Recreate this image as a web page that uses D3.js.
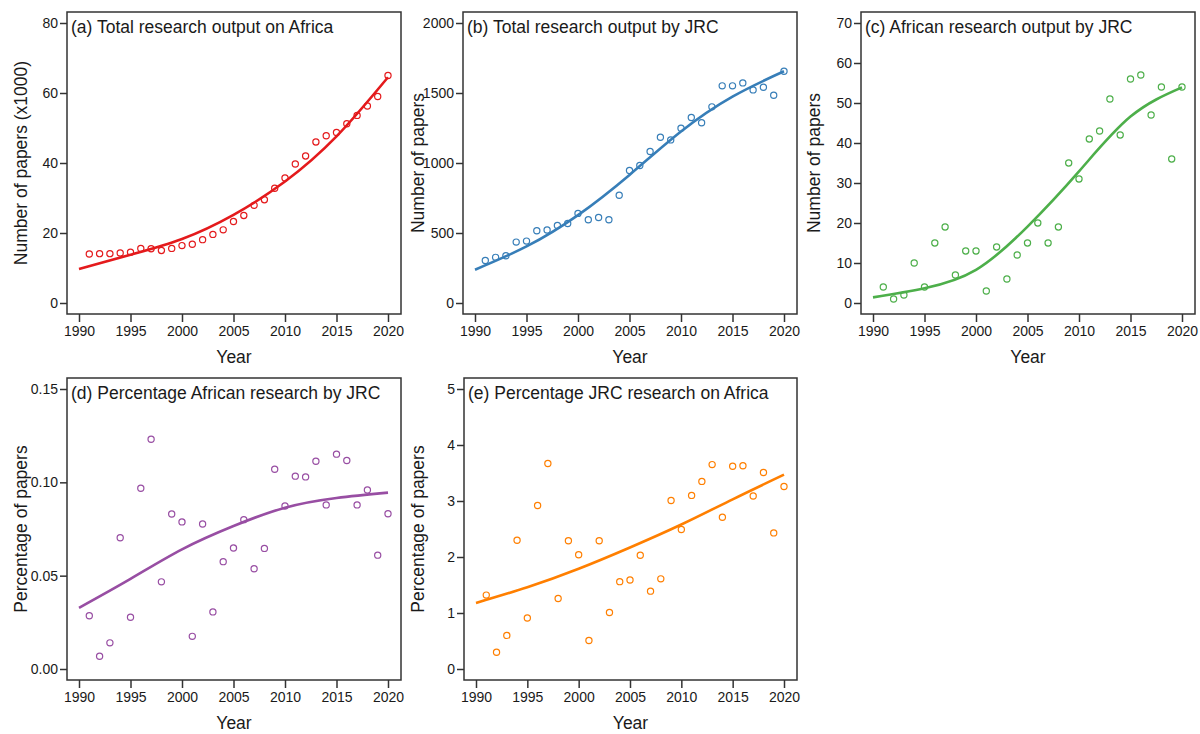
<!DOCTYPE html>
<html>
<head>
<meta charset="utf-8">
<script src="https://cdn.jsdelivr.net/npm/d3@7"></script>
<style>
  body { margin: 0; background: #fff; }
  svg text { font-family: "Liberation Sans", Arial, sans-serif; fill: #1a1a1a; }
</style>
</head>
<body>
<div id="chart"></div>
<script>
// ---- data ----
const years = d3.range(1991, 2021);
const fitYears = [1990, 1995, 2000, 2005, 2010, 2015, 2020];

// (a) total research output on Africa (x1000)
const africaTotal = [14.0, 14.1, 14.1, 14.3, 14.5, 15.6, 15.5, 15.0, 15.6, 16.4,
  16.8, 18.1, 19.6, 20.9, 23.3, 25.0, 27.9, 29.5, 32.8, 35.7,
  39.7, 42.0, 46.0, 47.8, 48.7, 51.2, 53.6, 56.3, 59.0, 65.0];
const africaTotalFit = [9.7, 13.8, 18.3, 25.2, 34.7, 47.6, 64.5];

// (b) total research output by JRC
const jrcTotal = [304, 326, 338, 435, 442, 516, 521, 554, 568, 640,
  595, 611, 595, 770, 946, 982, 1082, 1184, 1165, 1248,
  1325, 1287, 1401, 1551, 1551, 1572, 1522, 1541, 1484, 1655];
const jrcTotalFit = [238, 404, 628, 915, 1225, 1474, 1655];

// (c) African research output by JRC
const jrcAfrica = [4, 1, 2, 10, 4, 15, 19, 7, 13, 13,
  3, 14, 6, 12, 15, 20, 15, 19, 35, 31,
  41, 43, 51, 42, 56, 57, 47, 54, 36, 54];
const jrcAfricaFit = [1.4, 3.7, 8.3, 19.1, 32.9, 46.6, 53.9];

// (d) percentage African research by JRC
const pctAfricaByJrc = [0.0285, 0.0068, 0.0140, 0.0703, 0.0277, 0.0968, 0.1231, 0.0467, 0.0830, 0.0788,
  0.0175, 0.0777, 0.0306, 0.0575, 0.0648, 0.0800, 0.0537, 0.0646, 0.1070, 0.0873,
  0.1033, 0.1029, 0.1113, 0.0879, 0.1151, 0.1117, 0.0879, 0.0959, 0.0610, 0.0832];
const pctAfricaByJrcFit = [0.0328, 0.0483, 0.0641, 0.0766, 0.0864, 0.0916, 0.0945];

// (e) percentage JRC research on Africa
const pctJrcOnAfrica = [1.32, 0.30, 0.60, 2.30, 0.91, 2.92, 3.67, 1.26, 2.29, 2.04,
  0.51, 2.29, 1.01, 1.56, 1.59, 2.03, 1.39, 1.61, 3.01, 2.49,
  3.10, 3.35, 3.65, 2.71, 3.62, 3.63, 3.09, 3.51, 2.43, 3.26];
const pctJrcOnAfricaFit = [1.18, 1.46, 1.79, 2.17, 2.58, 3.03, 3.47];

const xTicks = [1990, 1995, 2000, 2005, 2010, 2015, 2020];

const panels = [
  {title: "(a) Total research output on Africa", ylab: "Number of papers (x1000)",
   pts: africaTotal, fit: africaTotalFit, ymax: 80, yticks: [0, 20, 40, 60, 80], fmt: d3.format("d"),
   color: "#E41A1C", box: {l: 67, r: 401, t: 12, b: 314}, ylabX: 21},
  {title: "(b) Total research output by JRC", ylab: "Number of papers",
   pts: jrcTotal, fit: jrcTotalFit, ymax: 2000, yticks: [0, 500, 1000, 1500, 2000], fmt: d3.format("d"),
   color: "#377EB8", box: {l: 463, r: 797, t: 12, b: 314}, ylabX: 418},
  {title: "(c) African research output by JRC", ylab: "Number of papers",
   pts: jrcAfrica, fit: jrcAfricaFit, ymax: 70, yticks: [0, 10, 20, 30, 40, 50, 60, 70], fmt: d3.format("d"),
   color: "#4DAF4A", box: {l: 861, r: 1195, t: 12, b: 314}, ylabX: 814},
  {title: "(d) Percentage African research by JRC", ylab: "Percentage of papers",
   pts: pctAfricaByJrc, fit: pctAfricaByJrcFit, ymax: 0.15, yticks: [0, 0.05, 0.10, 0.15], fmt: d3.format(".2f"),
   color: "#984EA3", box: {l: 67, r: 401, t: 378, b: 680}, ylabX: 21},
  {title: "(e) Percentage JRC research on Africa", ylab: "Percentage of papers",
   pts: pctJrcOnAfrica, fit: pctJrcOnAfricaFit, ymax: 5, yticks: [0, 1, 2, 3, 4, 5], fmt: d3.format("d"),
   color: "#FF7F00", box: {l: 464, r: 797, t: 378, b: 680}, ylabX: 418}
];

const W = 1200, H = 734;
const svg = d3.select("#chart").append("svg")
  .attr("width", W)
  .attr("height", H);

panels.forEach(p => {
  const b = p.box;
  const x = d3.scaleLinear().domain([1990, 2020]).range([b.l + 12, b.r - 13]);
  const y = d3.scaleLinear().domain([0, p.ymax]).range([b.b - 11, b.t + 11]);
  const g = svg.append("g");

  // x axis
  const xa = g.append("g")
    .attr("transform", `translate(0,${b.b})`)
    .call(d3.axisBottom(x).tickValues(xTicks).tickFormat(d3.format("d")).tickSize(8).tickPadding(4));
  // y axis
  const ya = g.append("g")
    .attr("transform", `translate(${b.l},0)`)
    .call(d3.axisLeft(y).tickValues(p.yticks).tickFormat(p.fmt).tickSize(7).tickPadding(2));
  [xa, ya].forEach(a => {
    a.select(".domain").remove();
    a.selectAll(".tick line").attr("stroke", "#333").attr("stroke-width", 1.5);
    a.selectAll(".tick text").style("font-size", "14px").attr("fill", "#1a1a1a");
  });

  // frame
  g.append("rect")
    .attr("x", b.l).attr("y", b.t)
    .attr("width", b.r - b.l).attr("height", b.b - b.t)
    .attr("fill", "none").attr("stroke", "#333").attr("stroke-width", 1.5);

  // fitted trend
  g.append("path")
    .datum(fitYears.map((yr, i) => [yr, p.fit[i]]))
    .attr("fill", "none")
    .attr("stroke", p.color)
    .attr("stroke-width", 2.6)
    .attr("d", d3.line().x(d => x(d[0])).y(d => y(d[1])).curve(d3.curveNatural));

  // observed points
  g.selectAll("circle.pt")
    .data(years.map((yr, i) => [yr, p.pts[i]]))
    .join("circle")
    .attr("class", "pt")
    .attr("cx", d => x(d[0]))
    .attr("cy", d => y(d[1]))
    .attr("r", 3.1)
    .attr("fill", "none")
    .attr("stroke", p.color)
    .attr("stroke-width", 1.2);

  // panel title
  g.append("text")
    .attr("x", b.l + 4).attr("y", b.t + 21)
    .style("font-size", "17.5px")
    .text(p.title);

  // axis titles
  g.append("text")
    .attr("x", (b.l + b.r) / 2).attr("y", b.b + 49)
    .attr("text-anchor", "middle")
    .style("font-size", "17.5px")
    .text("Year");
  g.append("text")
    .attr("transform", `translate(${p.ylabX},${(b.t + b.b) / 2}) rotate(-90)`)
    .attr("text-anchor", "middle")
    .attr("dy", "0.35em")
    .style("font-size", "17.5px")
    .text(p.ylab);
});
</script>
</body>
</html>
